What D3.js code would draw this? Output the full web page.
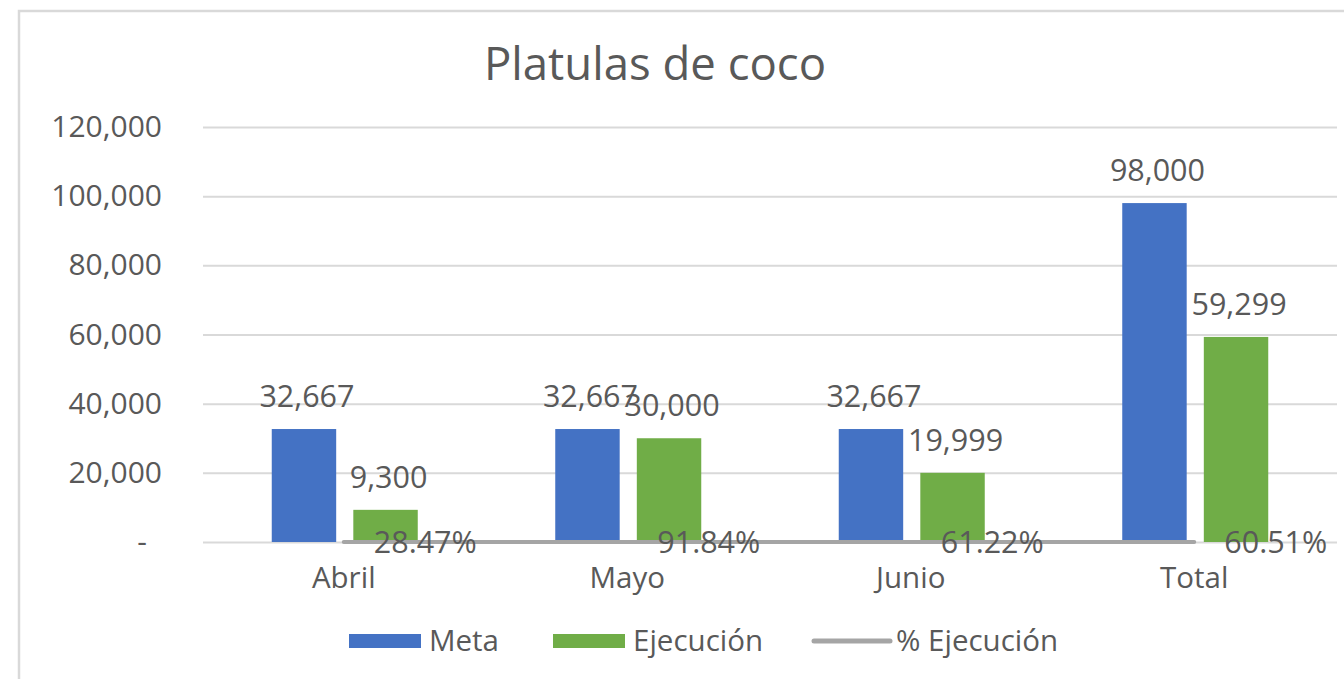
<!DOCTYPE html>
<html>
<head>
<meta charset="utf-8">
<script src="https://cdn.jsdelivr.net/npm/d3@7"></script>
<style>
  body { margin: 0; background: #fff; }
  text { font-family: "Open Sans", sans-serif; fill: #595959; }
</style>
</head>
<body>
<div id="container"></div>
<script>
// data
let categories = ["Abril", "Mayo", "Junio", "Total"];
let series = ["Meta", "Ejecución"];
let meta = [32667, 32667, 32667, 98000];
let ejecucion = [9300, 30000, 19999, 59299];
let pctEjecucion = [0.2847, 0.9184, 0.6122, 0.6051];
let yTicks = [0, 20000, 40000, 60000, 80000, 100000, 120000];

//Width and height
let w = 1344;
let h = 679;

let colors = { "Meta": "#4472c4", "Ejecución": "#70ad47", "% Ejecución": "#a5a5a5" };

let svg = d3.select("#container")
    .append("svg")
    .attr("width", w)
    .attr("height", h);

// chart border
svg.append("rect")
    .attr("x", 19).attr("y", 11)
    .attr("width", w + 20).attr("height", h + 20)
    .attr("fill", "none")
    .attr("stroke", "#d9d9d9")
    .attr("stroke-width", 2.5);

// title
svg.append("text")
    .attr("x", 655).attr("y", 80)
    .attr("text-anchor", "middle")
    .style("font-size", "45.5px")
    .text("Platulas de coco");

// scales
let plotLeft = 203, plotRight = 1337;
let x0 = d3.scaleBand().domain(categories).range([plotLeft, plotRight]);
let x1 = d3.scaleBand().domain(series)
    .range([x0.bandwidth() / 2 - 73, x0.bandwidth() / 2 + 73])
    .paddingInner(0.21);
let y = d3.scaleLinear().domain([0, 120000]).range([542, 127]);

// y axis + gridlines
let fmt = d3.format(",");
let yAxis = svg.append("g")
    .attr("transform", "translate(" + plotLeft + ",0)")
    .call(d3.axisLeft(y)
        .tickValues(yTicks)
        .tickSize(-(plotRight - plotLeft))
        .tickPadding(41)
        .tickFormat(d => d === 0 ? "-" : fmt(d)));
yAxis.select(".domain").remove();
yAxis.selectAll(".tick line").attr("stroke", "#d9d9d9").attr("stroke-width", 2);
yAxis.selectAll(".tick text")
    .attr("fill", "#595959")
    .style("font-size", "30px")
    .style("font-family", "'Open Sans', sans-serif")
    .attr("dx", d => d === 0 ? -15 : 0);

// category labels
svg.append("g").selectAll("text")
    .data(categories)
    .enter()
    .append("text")
    .attr("x", d => x0(d) + x0.bandwidth() / 2 - 1)
    .attr("y", 588)
    .attr("text-anchor", "middle")
    .style("font-size", "29.5px")
    .text(d => d);

// bars
let rows = categories.map((c, i) => ({ cat: c, Meta: meta[i], "Ejecución": ejecucion[i], pct: pctEjecucion[i] }));

let groups = svg.append("g").selectAll("g")
    .data(rows)
    .enter()
    .append("g")
    .attr("transform", d => "translate(" + x0(d.cat) + ",0)");

groups.selectAll("rect")
    .data(d => series.map(s => ({ key: s, value: d[s] })))
    .enter()
    .append("rect")
    .attr("x", d => x1(d.key))
    .attr("y", d => y(d.value))
    .attr("width", x1.bandwidth())
    .attr("height", d => y(0) - y(d.value))
    .attr("fill", d => colors[d.key]);

groups.selectAll(".lbl")
    .data(d => series.map(s => ({ key: s, value: d[s] })))
    .enter()
    .append("text")
    .attr("class", "lbl")
    .attr("x", d => x1(d.key) + x1.bandwidth() / 2 + 3)
    .attr("y", d => y(d.value) - 22)
    .attr("text-anchor", "middle")
    .style("font-size", "30.5px")
    .text(d => fmt(d.value));

// % Ejecución line (on the primary axis, so it sits at the bottom)
let line = d3.line()
    .x(d => x0(d.cat) + x0.bandwidth() / 2 - 1)
    .y(d => y(d.pct));

svg.append("path")
    .datum(rows)
    .attr("d", line)
    .attr("fill", "none")
    .attr("stroke", colors["% Ejecución"])
    .attr("stroke-width", 4)
    .attr("stroke-linecap", "round");

let pctFmt = d3.format(".2%");
svg.append("g").selectAll("text")
    .data(rows)
    .enter()
    .append("text")
    .attr("x", d => x0(d.cat) + x0.bandwidth() / 2 + 29)
    .attr("y", d => y(d.pct))
    .attr("dy", "0.35em")
    .style("font-size", "30.5px")
    .text(d => pctFmt(d.pct));

// legend
let legendItems = [
    { name: "Meta", x: 349, type: "rect" },
    { name: "Ejecución", x: 553, type: "rect" },
    { name: "% Ejecución", x: 812, type: "line" }
];
let legend = svg.append("g").attr("transform", "translate(0,641)");
legendItems.forEach(item => {
    if (item.type === "rect") {
        legend.append("rect")
            .attr("x", item.x).attr("y", -7)
            .attr("width", 72).attr("height", 14)
            .attr("fill", colors[item.name]);
    } else {
        legend.append("line")
            .attr("x1", item.x + 2).attr("x2", item.x + 78)
            .attr("y1", 0).attr("y2", 0)
            .attr("stroke", colors[item.name])
            .attr("stroke-width", 5)
            .attr("stroke-linecap", "round");
    }
    legend.append("text")
        .attr("x", item.x + (item.type === "rect" ? 80 : 84))
        .attr("y", 0)
        .attr("dy", "0.35em")
        .style("font-size", "29.5px")
        .text(item.name);
});
</script>
</body>
</html>
